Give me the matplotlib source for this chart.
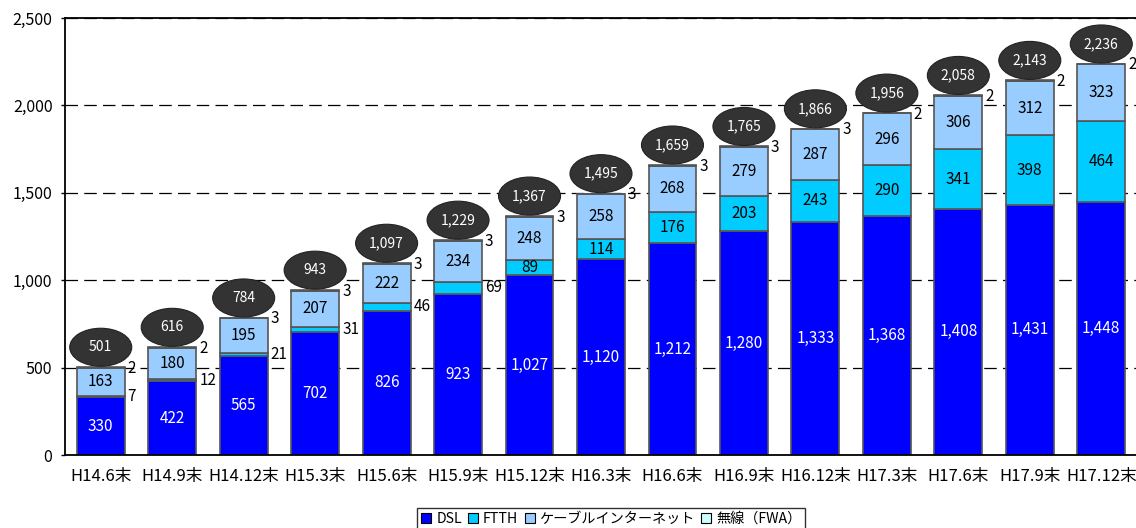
import matplotlib
matplotlib.use("Agg")
import matplotlib.pyplot as plt
from matplotlib.patches import Ellipse
from matplotlib.lines import Line2D
import numpy as np

plt.rcParams['font.family'] = ['Noto Sans CJK JP', 'DejaVu Sans']

periods = ["H14.6末", "H14.9末", "H14.12末", "H15.3末", "H15.6末", "H15.9末",
           "H15.12末", "H16.3末", "H16.6末", "H16.9末", "H16.12末", "H17.3末",
           "H17.6末", "H17.9末", "H17.12末"]
dsl = [330, 422, 565, 702, 826, 923, 1027, 1120, 1212, 1280, 1333, 1368, 1408, 1431, 1448]
ftth = [7, 12, 21, 31, 46, 69, 89, 114, 176, 203, 243, 290, 341, 398, 464]
cable = [163, 180, 195, 207, 222, 234, 248, 258, 268, 279, 287, 296, 306, 312, 323]
fwa = [2, 2, 3, 3, 3, 3, 3, 3, 3, 3, 3, 2, 2, 2, 2]
totals = [501, 616, 784, 943, 1097, 1229, 1367, 1495, 1659, 1765, 1866, 1956, 2058, 2143, 2236]

series_names = ["DSL", "FTTH", "ケーブルインターネット", "無線（FWA）"]
colors = ["#0000FF", "#00CCFF", "#99CCFF", "#CCFFFF"]

fig = plt.figure(figsize=(11.36, 5.28), dpi=100)
ax_w_px = 1072
ax_h_px = 437
ax = fig.add_axes([65 / 1136, 73 / 528, ax_w_px / 1136, ax_h_px / 528])

n = len(periods)
x = np.arange(n)
w = 0.67
edge = "#555555"
bottom = np.zeros(n)
for vals, col in zip([dsl, ftth, cable, fwa], colors):
    ax.bar(x, vals, w, bottom=bottom, color=col, edgecolor=edge, linewidth=1.2, zorder=2)
    bottom += np.array(vals)

ax.set_xlim(-0.5, n - 0.5)
ax.set_ylim(0, 2500)
ax.set_yticks(np.arange(0, 2501, 500))
ax.set_yticklabels([f"{v:,}" for v in range(0, 2501, 500)], fontsize=11.5)
ax.set_xticks(x)
ax.set_xticklabels(periods, fontsize=12)
ax.tick_params(axis='x', length=0, pad=9)
ax.tick_params(axis='y', length=3, width=1, pad=6)
ax.spines["right"].set_visible(False)
for s in ["left", "bottom", "top"]:
    ax.spines[s].set_linewidth(1.3)
ax.yaxis.grid(True, linestyle=(0, (10, 5)), color="black", linewidth=0.9, zorder=0)
ax.set_axisbelow(True)

# data units per pixel
ypp = 2500 / ax_h_px
xpp = n / ax_w_px
right_off = w / 2 + 3 * xpp

for i in range(n):
    d, f, c, r = dsl[i], ftth[i], cable[i], fwa[i]
    ax.text(x[i], d / 2, f"{d:,}", color="white", ha="center", va="center", fontsize=11, zorder=4)
    if f >= 80:
        ax.text(x[i], d + f / 2, f"{f}", color="black", ha="center", va="center", fontsize=11, zorder=4)
    else:
        ax.text(x[i] + right_off, d + f / 2, f"{f}", color="black", ha="left", va="center", fontsize=11, zorder=4)
    ax.text(x[i], d + f + c / 2, f"{c}", color="black", ha="center", va="center", fontsize=11, zorder=4)
    top = d + f + c + r
    ax.text(x[i] + right_off, top - 1 * ypp, f"{r}", color="black", ha="left", va="center",
            fontsize=11, zorder=4, clip_on=False)
    cy = top + 20 * ypp
    ax.add_patch(Ellipse((x[i], cy), 62 * xpp, 38 * ypp, facecolor="#333333",
                         edgecolor="#222222", linewidth=0.8, zorder=5, clip_on=False))
    ax.text(x[i], cy, f"{totals[i]:,}", color="white", ha="center", va="center", fontsize=10, zorder=6)

handles = [Line2D([], [], marker="s", linestyle="none", markersize=7, markerfacecolor=col,
                  markeredgecolor="black", markeredgewidth=0.8) for col in colors]
leg = fig.legend(handles, series_names, loc="center", bbox_to_anchor=(611 / 1136, 1 - 519 / 528),
                 ncol=4, frameon=True, fancybox=False, edgecolor="black", fontsize=10.2,
                 handlelength=0.8, handletextpad=0.3, columnspacing=0.4, borderpad=0.25,
                 borderaxespad=0)
leg.get_frame().set_linewidth(1.0)

fig.savefig("out.png", dpi=100)
